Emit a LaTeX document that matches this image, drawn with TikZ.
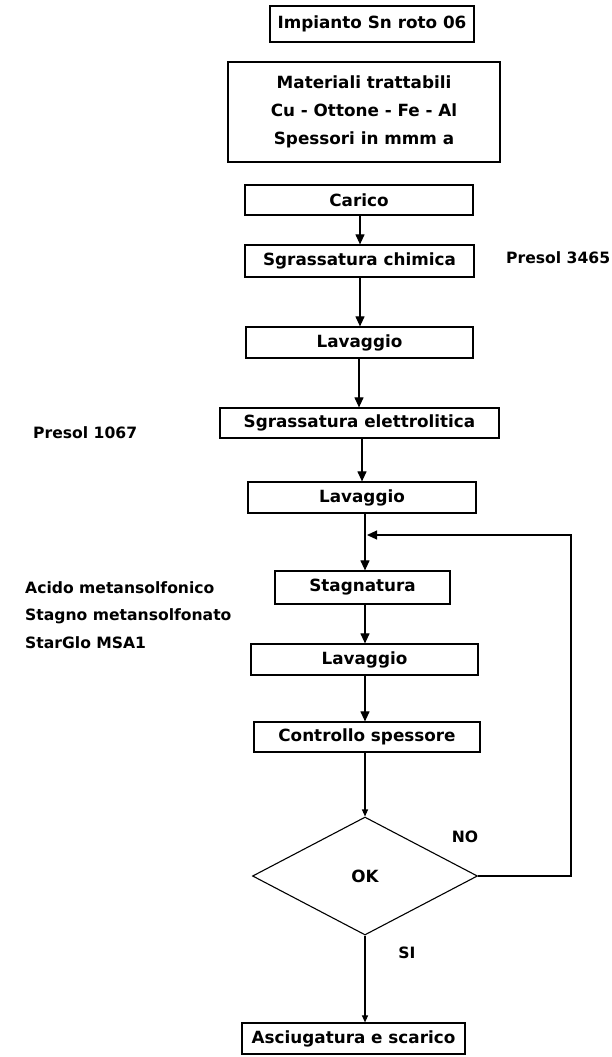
\documentclass[tikz,border=0pt]{standalone}
\usepackage{fontspec}
\setmainfont{DejaVu Sans}
\usetikzlibrary{arrows.meta,shapes.geometric}

\tikzset{
  stepbox/.style={draw=black, line width=1.2pt, inner sep=0pt, minimum width=#1},
  lbl/.style={inner sep=0pt, font=\bfseries\fontsize{15.6}{27.5}\selectfont},
  arr/.style={line width=1.1pt, -{Triangle[length=10pt,width=9pt]}},
  arrsmall/.style={line width=1.1pt, -{Triangle[length=7pt,width=6pt]}},
  decision/.style={draw=black, line width=1.1pt, diamond, inner sep=0pt,
                   minimum width=225pt, minimum height=118pt}
}

\begin{document}
\begin{tikzpicture}[x=1pt, y=-1pt, font=\bfseries\fontsize{16.8}{28}\selectfont]
\useasboundingbox (0,0) rectangle (612,1057);

% header boxes
\node[stepbox=204pt, minimum height=36pt] (title) at (372,24) {Impianto Sn roto 06};
\node[stepbox=272pt, minimum height=100pt, align=center] (mat) at (364,112)
  {Materiali trattabili\\Cu - Ottone - Fe - Al\\Spessori in mmm a};

% process steps
\node[stepbox=228pt, minimum height=30pt] (carico) at (359,200) {Carico};
\node[stepbox=229pt, minimum height=32pt] (sgrc) at (359.5,261) {Sgrassatura chimica};
\node[stepbox=227pt, minimum height=31pt] (lav1) at (359.5,342.5) {Lavaggio};
\node[stepbox=279pt, minimum height=30pt] (sgre) at (359.5,423) {Sgrassatura elettrolitica};
\node[stepbox=228pt, minimum height=31pt] (lav2) at (362,497.5) {Lavaggio};
\node[stepbox=175pt, minimum height=33pt] (stag) at (362.5,587.5) {Stagnatura};
\node[stepbox=227pt, minimum height=31pt] (lav3) at (364.5,659.5) {Lavaggio};
\node[stepbox=226pt, minimum height=30pt] (ctrl) at (367,737) {Controllo spessore};
\node[decision] (ok) at (365,876) {OK};
\node[stepbox=223pt, minimum height=31pt] (asc) at (353.5,1038.5) {Asciugatura e scarico};

% side notes
\node[lbl, anchor=west] (p3465) at (506,258) {Presol 3465};
\node[lbl, anchor=west] (p1067) at (33,433) {Presol 1067};
\node[lbl, anchor=west, align=left] (bath) at (25,615)
  {Acido metansolfonico\\Stagno metansolfonato\\StarGlo MSA1};
\node[lbl] (no) at (465,837) {NO};
\node[lbl] (si) at (407,953) {SI};

% loop-back point above the tin plating step
\coordinate (loopin) at (365,535);
\coordinate (loopr) at (571,535);
\coordinate (loopb) at (571,876);

% connectors
\draw[arr] (carico.south -| 360,0) -- (sgrc.north -| 360,0);
\draw[arr] (sgrc.south -| 360,0) -- (lav1.north -| 360,0);
\draw[arr] (lav1.south -| 359,0) -- (sgre.north -| 359,0);
\draw[arr] (sgre.south -| 362,0) -- (lav2.north -| 362,0);
\draw[arr] (lav2.south -| loopin) -- (stag.north -| loopin);
\draw[arr] (ok.east) -- (loopb) -- (loopr) -- ([xshift=2pt]loopin);
\draw[arr] (stag.south -| loopin) -- (lav3.north -| loopin);
\draw[arr] (lav3.south -| loopin) -- (ctrl.north -| loopin);
\draw[arrsmall] (ctrl.south -| ok.north) -- (ok.north);
\draw[arrsmall] (ok.south) -- (asc.north -| ok.south);
\end{tikzpicture}
\end{document}
